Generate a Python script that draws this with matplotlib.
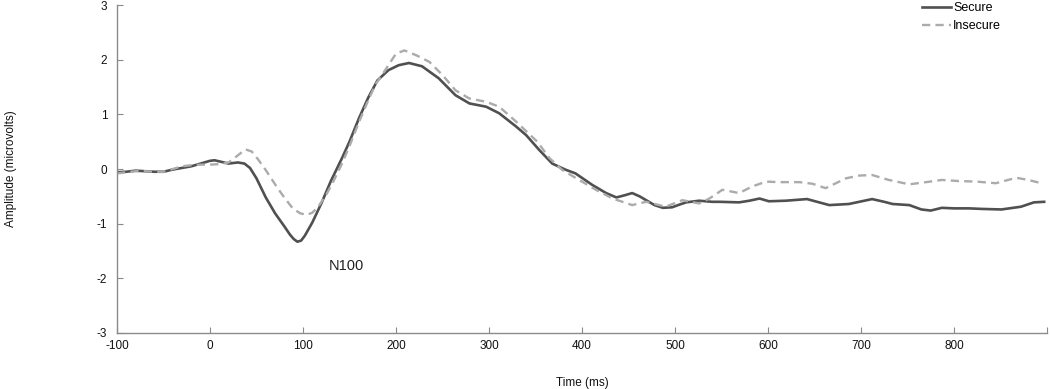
import matplotlib
matplotlib.use("Agg")
import matplotlib.pyplot as plt

plt.rcParams['font.family'] = ['Liberation Sans', 'DejaVu Sans']
plt.rcParams['axes.unicode_minus'] = False

# ERP waveforms (time in ms, amplitude in microvolts)
secure_t = [-100, -90, -80, -70, -60, -50, -40, -30, -20, -10, 0, 5, 10, 20, 30, 37, 43,
            50, 60, 70, 80, 86, 90, 94, 98, 102, 110, 120, 130, 142, 150, 160, 170, 180,
            192, 203, 214, 228, 246, 264, 279, 297, 311, 329, 340, 354, 368, 382, 393,
            411, 426, 437, 446, 454, 462, 469, 478, 487, 497, 505, 512, 526, 540, 548,
            569, 580, 591, 601, 619, 642, 655, 666, 687, 712, 725, 734, 752, 765, 775,
            787, 800, 816, 830, 851, 872, 886, 897]
secure_v = [-0.06, -0.05, -0.03, -0.04, -0.05, -0.05, -0.01, 0.02, 0.05, 0.10, 0.15, 0.16,
            0.14, 0.10, 0.12, 0.10, 0.02, -0.17, -0.52, -0.81, -1.05, -1.20, -1.28,
            -1.33, -1.31, -1.22, -0.98, -0.62, -0.22, 0.20, 0.50, 0.92, 1.30, 1.62, 1.81,
            1.90, 1.94, 1.88, 1.66, 1.35, 1.20, 1.14, 1.02, 0.78, 0.62, 0.35, 0.10, -0.01,
            -0.08, -0.29, -0.44, -0.52, -0.48, -0.44, -0.50, -0.57, -0.66, -0.71, -0.70,
            -0.65, -0.61, -0.58, -0.60, -0.60, -0.61, -0.58, -0.54, -0.59, -0.58, -0.55,
            -0.61, -0.66, -0.64, -0.55, -0.60, -0.64, -0.66, -0.74, -0.76, -0.71, -0.72,
            -0.72, -0.73, -0.74, -0.69, -0.61, -0.60]

insecure_t = [-100, -90, -80, -70, -60, -50, -40, -30, -20, -10, 0, 10, 20, 30, 38, 45,
              52, 60, 70, 79, 89, 97, 104, 110, 116, 125, 132, 142, 150, 160, 170, 178,
              185, 193, 200, 209, 222, 236, 250, 264, 279, 297, 311, 329, 342, 352, 365,
              379, 397, 415, 433, 454, 469, 483, 490, 508, 526, 537, 551, 569, 583, 598,
              612, 634, 648, 662, 684, 698, 712, 730, 752, 770, 787, 805, 824, 845, 867,
              880, 894]
insecure_v = [-0.08, -0.06, -0.04, -0.04, -0.05, -0.05, 0.00, 0.05, 0.07, 0.08, 0.08, 0.09,
              0.12, 0.25, 0.36, 0.32, 0.17, -0.02, -0.28, -0.50, -0.72, -0.81, -0.84,
              -0.80, -0.70, -0.47, -0.25, 0.10, 0.42, 0.85, 1.25, 1.55, 1.72, 1.93, 2.11,
              2.17, 2.08, 1.96, 1.72, 1.44, 1.29, 1.23, 1.14, 0.87, 0.66, 0.50, 0.20,
              -0.02, -0.20, -0.38, -0.54, -0.66, -0.60, -0.66, -0.69, -0.57, -0.63, -0.54,
              -0.38, -0.44, -0.32, -0.23, -0.24, -0.24, -0.27, -0.35, -0.17, -0.12, -0.11,
              -0.20, -0.28, -0.24, -0.20, -0.22, -0.23, -0.26, -0.16, -0.20, -0.26]

x_ticks = [-100, 0, 100, 200, 300, 400, 500, 600, 700, 800, 900]
x_labels = ['-100', '0', '100', '200', '300', '400', '500', '600', '700', '800', '']
y_ticks = [-3, -2, -1, 0, 1, 2, 3]

fig = plt.figure(figsize=(10.5, 3.89), dpi=100)
ax = fig.add_axes([0.1114, 0.144, 0.8857, 0.843])

ax.plot(secure_t, secure_v, color='#505050', lw=1.9, label='Secure')
ax.plot(insecure_t, insecure_v, color='#ababab', lw=1.7, dashes=(3.5, 2.2),
        label='Insecure')

ax.text(128, -1.78, 'N100', fontsize=10.5, ha='left', va='center', color='#222222')

ax.set_xlim(-100, 900)
ax.set_ylim(-3, 3)
ax.set_xticks(x_ticks)
ax.set_xticklabels(x_labels)
ax.set_yticks(y_ticks)

for side in ['top', 'right']:
    ax.spines[side].set_visible(False)
for side in ['left', 'bottom']:
    ax.spines[side].set_color('#8a8a8a')
    ax.spines[side].set_linewidth(1.0)
ax.tick_params(direction='in', length=4, color='#8a8a8a', labelsize=8.5,
               labelcolor='#111111')
ax.tick_params(axis='y', pad=7)
ax.tick_params(axis='x', pad=5)

ax.set_xlabel('Time (ms)', fontsize=8.5, labelpad=18, color='#111111')
ax.set_ylabel('Amplitude (microvolts)', fontsize=8.5, color='#111111')
ax.yaxis.set_label_coords(-0.108, 0.5)

ax.legend(loc='upper left', bbox_to_anchor=(0.866, 1.008), frameon=False,
          fontsize=9, handlelength=2.3, handletextpad=0.15, labelspacing=0.45,
          borderaxespad=0.0, borderpad=0.0)

fig.savefig('out.png', dpi=100)
